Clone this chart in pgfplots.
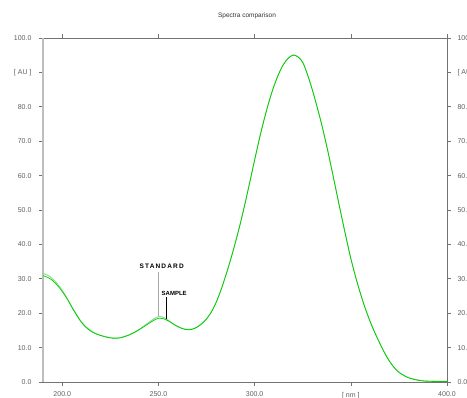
\documentclass[border=0pt]{standalone}
\usepackage{pgfplots}
\usepackage{pgfplotstable}
\pgfplotsset{compat=1.18}
\usepackage{fontspec}
\setmainfont{Liberation Sans}
\definecolor{stdgreen}{RGB}{125,225,125}
\definecolor{smpgreen}{RGB}{0,200,0}
\definecolor{axgray}{RGB}{115,115,115}
\definecolor{lblgray}{RGB}{95,95,95}
\definecolor{leftgray}{RGB}{190,190,190}

\pgfplotstableread{
x y
190 31.6
192.5 31.0
195 30.0
197.5 28.5
200 26.6
202.5 24.4
205 21.9
207.5 19.6
210 17.5
212.5 16.0
215 14.9
217.5 14.1
220 13.6
222.5 13.2
225 12.9
227.5 12.8
230 12.9
232.5 13.3
235 13.8
237.5 14.5
240 15.3
242.5 16.3
245 17.3
247.5 18.3
250 19.0
252.5 18.8
255 18.0
257.5 17.0
260 16.2
262.5 15.6
265 15.3
267.5 15.4
270 16.0
272.5 17.0
275 18.4
277.5 20.4
280 23.2
282.5 26.8
285 31.0
287.5 35.6
290 40.6
292.5 46.0
295 51.9
297.5 58.2
300 64.6
302.5 70.8
305 76.5
307.5 81.6
310 86.0
312.5 89.6
315 92.4
317.5 94.2
320 95.1
322.5 94.6
325 93.0
327.5 89.4
330 85.0
332.5 80.0
335 74.6
337.5 68.6
340 62.1
342.5 55.4
345 48.7
347.5 42.2
350 36.0
352.5 30.6
355 25.8
357.5 21.5
360 17.7
362.5 14.4
365 11.4
367.5 8.6
370 6.2
372.5 4.3
375 2.9
377.5 2.0
380 1.3
382.5 0.9
385 0.6
387.5 0.4
390 0.3
395 0.2
400 0.2
}\standard

\pgfplotstableread{
x y
190 30.9
192.5 30.4
195 29.5
197.5 28.1
200 26.3
202.5 24.2
205 21.7
207.5 19.4
210 17.3
212.5 15.8
215 14.7
217.5 14.0
220 13.5
222.5 13.1
225 12.8
227.5 12.7
230 12.8
232.5 13.2
235 13.7
237.5 14.4
240 15.2
242.5 16.1
245 17.0
247.5 17.9
250 18.5
252.5 18.4
255 17.8
257.5 16.9
260 16.1
262.5 15.5
265 15.2
267.5 15.3
270 15.9
272.5 16.9
275 18.3
277.5 20.3
280 23.1
282.5 26.7
285 30.9
287.5 35.5
290 40.5
292.5 45.9
295 51.8
297.5 58.1
300 64.5
302.5 70.7
305 76.4
307.5 81.5
310 85.9
312.5 89.5
315 92.3
317.5 94.1
320 95.0
322.5 94.5
325 92.9
327.5 89.3
330 84.9
332.5 79.9
335 74.5
337.5 68.5
340 62.0
342.5 55.3
345 48.6
347.5 42.1
350 35.9
352.5 30.5
355 25.7
357.5 21.4
360 17.6
362.5 14.3
365 11.3
367.5 8.5
370 6.1
372.5 4.2
375 2.8
377.5 1.9
380 1.2
382.5 0.8
385 0.5
387.5 0.3
390 0.2
395 0.15
400 0.15
}\sample

\begin{document}
\begin{tikzpicture}[x=1pt,y=1pt]
\pgfplotsset{common/.style={
  at={(43pt,16pt)}, anchor=south west,
  scale only axis, width=404pt, height=344pt,
  xmin=190, xmax=400, ymin=0, ymax=100,
  xtick={200,250,300,350,400},
  ytick={0,10,20,30,40,50,60,70,80,90,100},
  tick align=outside, major tick length=4pt,
  every tick/.style={axgray, line width=0.6pt},
  axis line style={axgray, line width=0.7pt},
  ticklabel style={font=\fontsize{7}{8}\selectfont, text=lblgray},
  xticklabel style={yshift=-2.5pt},
  yticklabels={0.0,10.0,20.0,30.0,40.0,50.0,60.0,70.0,80.0,{[ AU ]},100.0},
}}
\begin{axis}[common,
  xtick pos=both, xticklabel pos=bottom,
  ytick pos=both, yticklabel pos=left,
  yticklabel style={xshift=-4pt},
  xticklabels={200.0,250.0,300.0,{[ nm ]},400.0},
  clip=false]
\draw[leftgray, line width=2pt] (rel axis cs:0,0) -- (rel axis cs:0,1);
\addplot[stdgreen, line width=0.9pt, smooth] table[x=x,y=y] {\standard};
\addplot[smpgreen, line width=0.7pt, smooth] table[x=x,y=y] {\sample};
\draw[gray!70, line width=1.1pt] (axis cs:250,19.2) -- (axis cs:250,32);
\draw[black, line width=0.5pt] (axis cs:254,18.2) -- (axis cs:254,24.8);
\node[font=\bfseries\fontsize{6.5}{7}\selectfont\addfontfeature{LetterSpace=18}] at (axis cs:251.7,33.6) {STANDARD};
\node[font=\bfseries\fontsize{6}{7}\selectfont] at (axis cs:258.2,25.8) {SAMPLE};
\end{axis}
\begin{axis}[common,
  ytick pos=right, yticklabel pos=right,
  yticklabel style={xshift=3pt},
  xticklabels={}, axis line style={draw=none},
  every tick/.style={draw=none}]
\end{axis}
\node[font=\fontsize{6.5}{7}\selectfont, text=black!80] at (247,382.3) {Spectra comparison};
\pgfresetboundingbox
\path[use as bounding box] (0,0) rectangle (467,398);
\end{tikzpicture}
\end{document}
